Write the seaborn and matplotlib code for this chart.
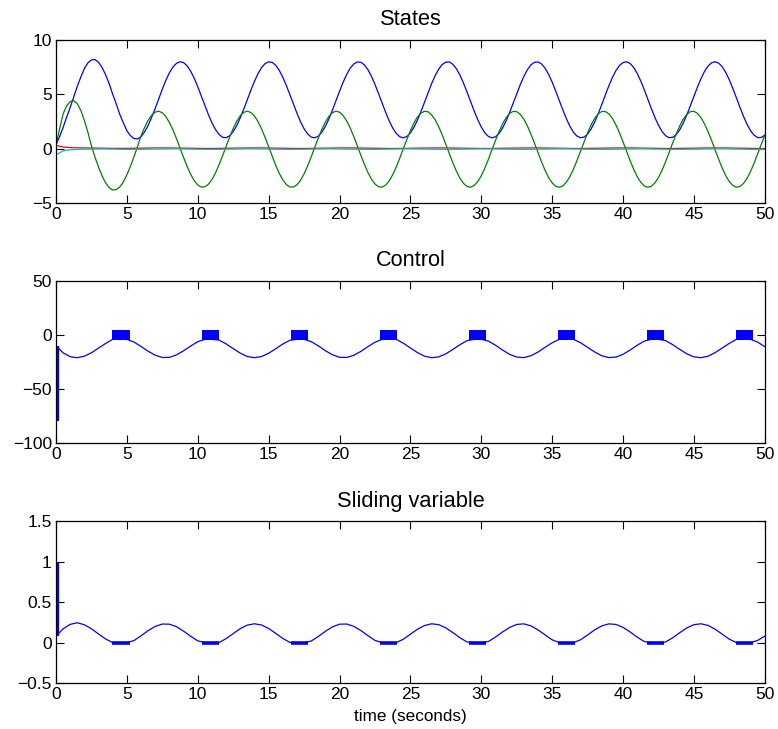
import numpy as np
import pandas as pd
import matplotlib
matplotlib.use("Agg")
import matplotlib.pyplot as plt
import seaborn as sns

# sample times (s): states 1-2 read every 0.25 s, the rest every 0.5 s
t_fine = np.linspace(0, 50, 201)
t = np.linspace(0, 50, 101)

# states, top panel (one row = 5 s)
x1 = [0.36, 1.10, 1.95, 2.90, 3.80, 4.78, 5.73, 6.60, 7.37, 7.90,
      8.17, 8.20, 7.95, 7.47, 6.80, 5.98, 5.00, 4.12, 3.15, 2.38,
      1.65, 1.20, 0.93, 0.90, 1.10, 1.55, 2.15, 2.90, 3.72, 4.60,
      5.48, 6.30, 6.99, 7.52, 7.86, 8.00, 7.92, 7.62, 7.13, 6.48,
      5.70, 4.85, 3.98, 3.14, 2.38, 1.76, 1.31, 1.05, 1.01, 1.19,
      1.57, 2.13, 2.85, 3.66, 4.53, 5.39, 6.20, 6.91, 7.46, 7.83,
      7.99, 7.94, 7.67, 7.21, 6.57, 5.81, 4.97, 4.10, 3.25, 2.48,
      1.83, 1.36, 1.07, 1.00, 1.15, 1.51, 2.05, 2.74, 3.55, 4.41,
      5.28, 6.10, 6.82, 7.40, 7.79, 7.98, 7.96, 7.72, 7.28, 6.67,
      5.92, 5.08, 4.21, 3.36, 2.57, 1.91, 1.41, 1.10, 1.00, 1.12,
      1.45, 1.97, 2.64, 3.43, 4.29, 5.17, 6.00, 6.73, 7.33, 7.75,
      7.97, 7.98, 7.76, 7.35, 6.76, 6.02, 5.20, 4.33, 3.47, 2.67,
      1.99, 1.46, 1.13, 1.00, 1.09, 1.39, 1.89, 2.55, 3.33, 4.18,
      5.05, 5.89, 6.64, 7.26, 7.71, 7.95, 7.99, 7.80, 7.41, 6.84,
      6.13, 5.31, 4.44, 3.58, 2.77, 2.07, 1.52, 1.16, 1.01, 1.07,
      1.34, 1.81, 2.45, 3.22, 4.06, 4.94, 5.78, 6.55, 7.19, 7.66,
      7.93, 8.00, 7.84, 7.48, 6.93, 6.23, 5.42, 4.56, 3.69, 2.87,
      2.16, 1.59, 1.20, 1.01, 1.05, 1.29, 1.74, 2.36, 3.11, 3.95,
      4.82, 5.67, 6.45, 7.11, 7.61, 7.91, 8.00, 7.87, 7.54, 7.01,
      6.33, 5.53, 4.68, 3.80, 2.98, 2.24, 1.65, 1.24, 1.02, 1.03,
      1.25]
x2 = [0.26, 1.80, 3.20, 3.95, 4.33, 4.42, 4.14, 3.52, 2.61, 1.50,
      0.26, -0.78, -1.69, -2.50, -3.15, -3.59, -3.80, -3.77, -3.52, -3.06,
      -2.40, -1.62, -0.74, 0.20, 1.19, 1.96, 2.61, 3.09, 3.37, 3.45,
      3.30, 2.95, 2.41, 1.72, 0.92, 0.05, -0.81, -1.63, -2.36, -2.94,
      -3.34, -3.53, -3.51, -3.27, -2.84, -2.23, -1.48, -0.65, 0.22, 1.08,
      1.86, 2.53, 3.04, 3.35, 3.45, 3.33, 3.01, 2.49, 1.82, 1.03,
      0.17, -0.70, -1.53, -2.27, -2.87, -3.30, -3.52, -3.53, -3.32, -2.91,
      -2.32, -1.59, -0.76, 0.11, 0.97, 1.77, 2.45, 2.98, 3.32, 3.45,
      3.36, 3.06, 2.57, 1.92, 1.14, 0.29, -0.59, -1.42, -2.18, -2.80,
      -3.25, -3.50, -3.54, -3.36, -2.97, -2.40, -1.69, -0.87, -0.01, 0.86,
      1.66, 2.37, 2.92, 3.28, 3.44, 3.39, 3.11, 2.65, 2.01, 1.25,
      0.40, -0.47, -1.32, -2.08, -2.73, -3.20, -3.48, -3.55, -3.39, -3.03,
      -2.49, -1.79, -0.99, -0.12, 0.75, 1.56, 2.28, 2.86, 3.25, 3.43,
      3.41, 3.16, 2.72, 2.10, 1.35, 0.52, -0.35, -1.21, -1.99, -2.65,
      -3.15, -3.46, -3.55, -3.43, -3.09, -2.57, -1.89, -1.09, -0.24, 0.63,
      1.46, 2.19, 2.79, 3.21, 3.42, 3.42, 3.21, 2.79, 2.19, 1.46,
      0.63, -0.24, -1.10, -1.89, -2.57, -3.09, -3.43, -3.55, -3.46, -3.15,
      -2.65, -1.99, -1.21, -0.36, 0.52, 1.35, 2.10, 2.72, 3.16, 3.41,
      3.44, 3.25, 2.86, 2.28, 1.56, 0.75, -0.12, -0.99, -1.79, -2.49,
      -3.03, -3.39, -3.55, -3.48, -3.20, -2.73, -2.09, -1.32, -0.47, 0.40,
      1.25]
x3 = [0.30, 0.15, 0.10, 0.08, 0.07, 0.06, 0.05, 0.04, 0.03, 0.03,
      0.03, 0.04, 0.05, 0.06, 0.07, 0.07, 0.07, 0.06, 0.05, 0.04,
      0.03, 0.02, 0.02, 0.03, 0.04, 0.05, 0.06, 0.07, 0.07, 0.07,
      0.06, 0.05, 0.04, 0.03, 0.02, 0.02, 0.03, 0.04, 0.05, 0.06,
      0.07, 0.07, 0.07, 0.06, 0.05, 0.04, 0.03, 0.02, 0.02, 0.03,
      0.04, 0.05, 0.06, 0.07, 0.07, 0.07, 0.06, 0.05, 0.04, 0.03,
      0.02, 0.02, 0.03, 0.04, 0.05, 0.06, 0.07, 0.07, 0.07, 0.06,
      0.05, 0.04, 0.03, 0.02, 0.02, 0.03, 0.04, 0.05, 0.06, 0.07,
      0.07, 0.07, 0.06, 0.05, 0.04, 0.03, 0.02, 0.02, 0.03, 0.04,
      0.05, 0.06, 0.07, 0.07, 0.07, 0.06, 0.05, 0.04, 0.03, 0.02,
      0.02]
x4 = [-0.55, -0.20, -0.10, -0.07, -0.05, -0.04, -0.03, -0.03, -0.04, -0.05,
      -0.06, -0.06, -0.06, -0.05, -0.04, -0.03, -0.02, -0.02, -0.03, -0.04,
      -0.05, -0.06, -0.06, -0.06, -0.05, -0.04, -0.03, -0.02, -0.02, -0.03,
      -0.04, -0.05, -0.06, -0.06, -0.06, -0.05, -0.04, -0.03, -0.02, -0.02,
      -0.03, -0.04, -0.05, -0.06, -0.06, -0.06, -0.05, -0.04, -0.03, -0.02,
      -0.02, -0.03, -0.04, -0.05, -0.06, -0.06, -0.06, -0.05, -0.04, -0.03,
      -0.02, -0.02, -0.03, -0.04, -0.05, -0.06, -0.06, -0.06, -0.05, -0.04,
      -0.03, -0.02, -0.02, -0.03, -0.04, -0.05, -0.06, -0.06, -0.06, -0.05,
      -0.04, -0.03, -0.02, -0.02, -0.03, -0.04, -0.05, -0.06, -0.06, -0.06,
      -0.05, -0.04, -0.03, -0.02, -0.02, -0.03, -0.04, -0.05, -0.06, -0.06,
      -0.06]

# control signal (smooth part), middle panel
u = [-10.0, -16.5, -20.1, -21.0, -19.6, -16.4, -12.1, -7.8, -4.0, -4.0,
     -4.0, -6.5, -10.6, -15.0, -18.7, -20.8, -20.7, -18.4, -14.6, -10.2,
     -6.2, -4.0, -4.0, -4.7, -8.2, -12.6, -16.8, -19.9, -21.0, -19.9,
     -16.9, -12.7, -8.3, -4.9, -4.0, -4.0, -6.1, -10.0, -14.5, -18.3,
     -20.6, -20.8, -18.8, -15.2, -10.8, -6.7, -4.0, -4.0, -4.0, -7.6,
     -12.0, -16.3, -19.6, -21.0, -20.2, -17.4, -13.3, -8.9, -5.2, -4.0,
     -4.0, -5.6, -9.4, -13.9, -17.9, -20.4, -20.9, -19.2, -15.8, -11.4,
     -7.2, -4.0, -4.0, -4.0, -7.1, -11.4, -15.7, -19.2, -20.9, -20.4,
     -17.9, -13.9, -9.5, -5.6, -4.0, -4.0, -5.2, -8.9, -13.3, -17.4,
     -20.2, -21.0, -19.6, -16.3, -12.0, -7.7, -4.0, -4.0, -4.0, -6.6,
     -10.8]
u_start = (-80.0, -10.0)          # jump at t = 0
chatter = (-5.0, 5.0)             # band the switching control fills

# sliding variable, bottom panel
s = [0.080, 0.170, 0.225, 0.245, 0.220, 0.170, 0.106, 0.044, 0.0, 0.0,
     0.0, 0.025, 0.084, 0.147, 0.200, 0.229, 0.227, 0.196, 0.141, 0.078,
     0.021, 0.0, 0.0, 0.0, 0.049, 0.111, 0.172, 0.216, 0.232, 0.217,
     0.174, 0.114, 0.051, 0.002, 0.0, 0.0, 0.019, 0.075, 0.139, 0.194,
     0.227, 0.229, 0.201, 0.149, 0.086, 0.027, 0.0, 0.0, 0.0, 0.041,
     0.103, 0.165, 0.211, 0.232, 0.221, 0.181, 0.123, 0.059, 0.007, 0.0,
     0.0, 0.013, 0.067, 0.131, 0.187, 0.224, 0.231, 0.207, 0.157, 0.095,
     0.034, 0.0, 0.0, 0.0, 0.034, 0.094, 0.157, 0.206, 0.231, 0.224,
     0.188, 0.131, 0.067, 0.013, 0.0, 0.0, 0.007, 0.059, 0.122, 0.181,
     0.221, 0.232, 0.212, 0.165, 0.103, 0.042, 0.0, 0.0, 0.0, 0.027,
     0.080]
s_start = (1.0, 0.08)

# intervals where the controller chatters (s stays at 0)
block_start = [3.95, 10.27, 16.60, 22.85, 29.15, 35.40, 41.70, 47.97]
block_end = [5.22, 11.50, 17.80, 24.07, 30.33, 36.60, 42.90, 49.17]

x_ticks = [0, 5, 10, 15, 20, 25, 30, 35, 40, 45, 50]

sns.set_style("ticks")
plt.rcParams["font.family"] = ["Liberation Sans", "DejaVu Sans"]
plt.rcParams["axes.unicode_minus"] = True
plt.rcParams["text.color"] = "black"
plt.rcParams["axes.labelcolor"] = "black"

BLUE = "#0000ff"
fig = plt.figure(figsize=(7.78, 7.29), dpi=100)
ax1 = fig.add_axes([0.072, 0.7215, 0.911, 0.2236])
ax2 = fig.add_axes([0.072, 0.3923, 0.911, 0.2222])
ax3 = fig.add_axes([0.072, 0.0630, 0.911, 0.2222])

# states
fast = pd.DataFrame({"t": t_fine, "x1": x1, "x2": x2})
fast = fast.melt(id_vars="t", var_name="state", value_name="value")
slow = pd.DataFrame({"t": t, "x3": x3, "x4": x4})
slow = slow.melt(id_vars="t", var_name="state", value_name="value")
sns.lineplot(data=fast, x="t", y="value", hue="state",
             hue_order=["x1", "x2"], palette=[BLUE, "#008000"],
             estimator=None, legend=False, linewidth=0.9, ax=ax1)
sns.lineplot(data=slow, x="t", y="value", hue="state",
             hue_order=["x3", "x4"], palette=["#ff0000", "#00bfbf"],
             estimator=None, legend=False, linewidth=0.9, ax=ax1)
ax1.set_ylim(-5, 10)
ax1.set_yticks([-5, 0, 5, 10])
ax1.set_title("States")

# control
sns.lineplot(x=t, y=u, color=BLUE, linewidth=0.9, estimator=None, ax=ax2)
ax2.vlines(0, u_start[0], u_start[1], color=BLUE, linewidth=4.5)
for a, b in zip(block_start, block_end):
    ax2.fill_between([a, b], chatter[0], chatter[1], color=BLUE, linewidth=0)
ax2.set_ylim(-100, 50)
ax2.set_yticks([-100, -50, 0, 50])
ax2.set_title("Control")

# sliding variable
sns.lineplot(x=t, y=s, color=BLUE, linewidth=0.9, estimator=None, ax=ax3)
ax3.vlines(0, s_start[1], s_start[0], color=BLUE, linewidth=4.5)
ax3.hlines([0] * len(block_start), block_start, block_end,
           color=BLUE, linewidth=2.6)
ax3.set_ylim(-0.5, 1.5)
ax3.set_yticks([-0.5, 0, 0.5, 1, 1.5])
ax3.set_yticklabels(["\u22120.5", "0", "0.5", "1", "1.5"])
ax3.set_title("Sliding variable")

for ax in (ax1, ax2, ax3):
    ax.set_xlim(0, 50)
    ax.set_xticks(x_ticks)
    ax.set_xlabel("")
    ax.set_ylabel("")
    ax.set_title(ax.get_title(), fontsize=15.7, pad=10.5, color="black")
    ax.tick_params(direction="in", top=True, right=True, length=5.5,
                   width=0.8, labelsize=12.5, pad=3, colors="black")
    for sp in ax.spines.values():
        sp.set_visible(True)
        sp.set_color("black")
        sp.set_linewidth(0.9)

ax3.set_xlabel("time (seconds)", fontsize=12.3, labelpad=5, color="black")

fig.savefig("out.png", dpi=100)
